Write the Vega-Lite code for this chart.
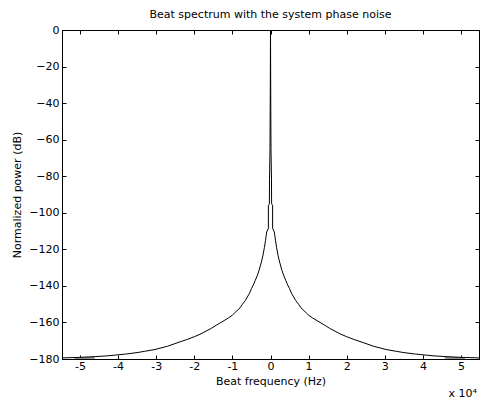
{
  "$schema": "https://vega.github.io/schema/vega-lite/v6.json",
  "width": 417,
  "height": 329,
  "autosize": {"type": "none"},
  "padding": {"left": 62, "top": 30, "right": 4, "bottom": 40},
  "background": "white",
  "config": {
    "font": "DejaVu Sans",
    "view": {"stroke": "black", "strokeWidth": 1},
    "axis": {"grid": false, "domainColor": "black", "tickColor": "black", "labelColor": "black", "titleColor": "black", "labelFont": "DejaVu Sans", "titleFont": "DejaVu Sans", "labelFontSize": 11, "titleFontSize": 11, "titleFontWeight": "normal", "tickSize": -4, "domainWidth": 1, "tickWidth": 1}
  },
  "title": {"text": "Beat spectrum with the system phase noise", "font": "DejaVu Sans", "fontSize": 11, "fontWeight": "normal", "color": "black", "offset": 4},
  "datasets": {
    "curve": [
      {"f": -54700, "db": -179.4},
      {"f": -50000, "db": -179.1},
      {"f": -46000, "db": -178.7},
      {"f": -43000, "db": -178.3},
      {"f": -40900, "db": -177.9},
      {"f": -38000, "db": -177.3},
      {"f": -35000, "db": -176.5},
      {"f": -33000, "db": -175.8},
      {"f": -30300, "db": -174.8},
      {"f": -27000, "db": -173},
      {"f": -24000, "db": -170.8},
      {"f": -22000, "db": -169.4},
      {"f": -20000, "db": -167.8},
      {"f": -18500, "db": -166.5},
      {"f": -15500, "db": -163.2},
      {"f": -14200, "db": -161.5},
      {"f": -13000, "db": -160},
      {"f": -11000, "db": -157.5},
      {"f": -10000, "db": -156},
      {"f": -9400, "db": -154.8},
      {"f": -8000, "db": -152},
      {"f": -7350, "db": -150},
      {"f": -6600, "db": -148},
      {"f": -5500, "db": -144},
      {"f": -5000, "db": -141.5},
      {"f": -4500, "db": -139.5},
      {"f": -4000, "db": -137},
      {"f": -3500, "db": -134.5},
      {"f": -3000, "db": -131.5},
      {"f": -2400, "db": -127},
      {"f": -2000, "db": -123.5},
      {"f": -1600, "db": -119},
      {"f": -1300, "db": -115},
      {"f": -1000, "db": -110.5},
      {"f": -560, "db": -108.5},
      {"f": -550, "db": -96},
      {"f": -290, "db": -95},
      {"f": -260, "db": -82},
      {"f": -130, "db": -65},
      {"f": -60, "db": -35},
      {"f": 0, "db": 0},
      {"f": 60, "db": -35},
      {"f": 130, "db": -65},
      {"f": 260, "db": -82},
      {"f": 290, "db": -95},
      {"f": 550, "db": -96},
      {"f": 560, "db": -108.5},
      {"f": 1000, "db": -110.5},
      {"f": 1300, "db": -115},
      {"f": 1600, "db": -119},
      {"f": 2000, "db": -123.5},
      {"f": 2400, "db": -127},
      {"f": 3000, "db": -131.5},
      {"f": 3500, "db": -134.5},
      {"f": 4000, "db": -137},
      {"f": 4500, "db": -139.5},
      {"f": 5000, "db": -141.5},
      {"f": 5500, "db": -144},
      {"f": 6600, "db": -148},
      {"f": 7350, "db": -150},
      {"f": 8000, "db": -152},
      {"f": 9400, "db": -154.8},
      {"f": 10000, "db": -156},
      {"f": 11000, "db": -157.5},
      {"f": 13000, "db": -160},
      {"f": 14200, "db": -161.5},
      {"f": 15500, "db": -163.2},
      {"f": 18500, "db": -166.5},
      {"f": 20000, "db": -167.8},
      {"f": 22000, "db": -169.4},
      {"f": 24000, "db": -170.8},
      {"f": 27000, "db": -173},
      {"f": 30300, "db": -174.8},
      {"f": 33000, "db": -175.8},
      {"f": 35000, "db": -176.5},
      {"f": 38000, "db": -177.3},
      {"f": 40900, "db": -177.9},
      {"f": 43000, "db": -178.3},
      {"f": 46000, "db": -178.7},
      {"f": 50000, "db": -179.1},
      {"f": 54700, "db": -179.4}
    ],
    "floor": [
      {"seg": "left", "f": -51400, "db": -179.6},
      {"seg": "left", "f": -46100, "db": -179.3},
      {"seg": "right", "f": 45700, "db": -179.3},
      {"seg": "right", "f": 51000, "db": -179.6}
    ]
  },
  "layer": [
    {
      "data": {"name": "floor"},
      "mark": {"type": "line", "color": "#8c8c8c", "strokeWidth": 2, "clip": true},
      "encoding": {
        "x": {"field": "f", "type": "quantitative",
              "scale": {"domain": [-54700, 54700], "nice": false, "zero": false},
              "axis": {"orient": "bottom", "values": [-50000, -40000, -30000, -20000, -10000, 0, 10000, 20000, 30000, 40000, 50000], "labelExpr": "datum.value / 10000", "title": "Beat frequency (Hz)", "labelPadding": 5, "titlePadding": 4}},
        "y": {"field": "db", "type": "quantitative",
              "scale": {"domain": [-180, 0], "nice": false, "zero": false},
              "axis": {"orient": "left", "values": [-180, -160, -140, -120, -100, -80, -60, -40, -20, 0], "title": "Normalized power (dB)", "labelPadding": 7, "titlePadding": 6}},
        "detail": {"field": "seg"}
      }
    },
    {
      "data": {"name": "curve"},
      "mark": {"type": "line", "color": "black", "strokeWidth": 1, "clip": true},
      "encoding": {
        "x": {"field": "f", "type": "quantitative", "sort": null,
              "axis": {"orient": "top", "values": [-50000, -40000, -30000, -20000, -10000, 0, 10000, 20000, 30000, 40000, 50000], "labels": false, "title": null}},
        "y": {"field": "db", "type": "quantitative",
              "axis": {"orient": "right", "values": [-180, -160, -140, -120, -100, -80, -60, -40, -20, 0], "labels": false, "title": null}}
      }
    },
    {
      "data": {"values": [{"label": "x 10⁴"}]},
      "mark": {"type": "text", "align": "right", "baseline": "alphabetic", "dx": -2, "dy": 38, "fontSize": 11, "font": "DejaVu Sans", "color": "black"},
      "encoding": {
        "x": {"datum": 54700, "axis": null},
        "y": {"datum": -180, "axis": null},
        "text": {"field": "label"}
      }
    }
  ],
  "resolve": {"axis": {"x": "independent", "y": "independent"}}
}
